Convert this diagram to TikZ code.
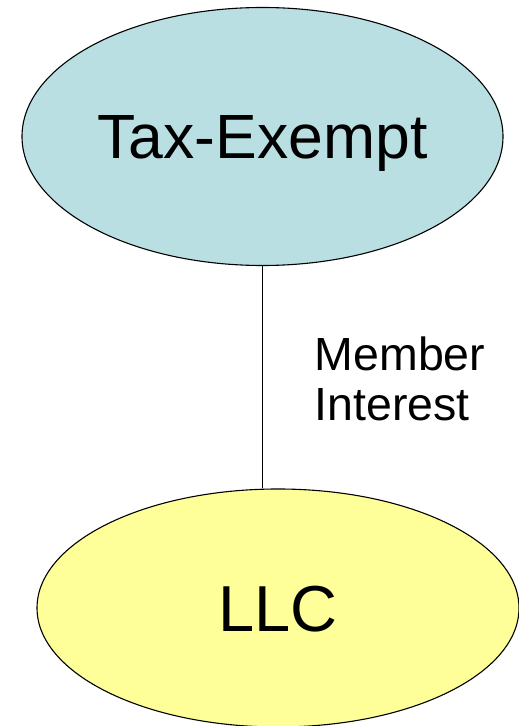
\documentclass[tikz,border=0pt]{standalone}
\usepackage{fontspec}
\setmainfont{Liberation Sans}
\usetikzlibrary{shapes.geometric}
\definecolor{teblue}{HTML}{B9DFE3}
\definecolor{llcyellow}{HTML}{FFFF99}
\tikzset{
  entity/.style={ellipse, draw=black, line width=1.1pt, inner sep=0pt, text depth=0pt},
  conn/.style={draw=black, line width=1pt},
  lbl/.style={align=left, inner sep=0pt, font=\fontsize{46.5}{50}\selectfont}
}
\begin{document}
\begin{tikzpicture}[x=1pt,y=1pt]
\useasboundingbox (0,0) rectangle (519,726);
\node[entity, fill=teblue, minimum width=481pt, minimum height=258pt,
  text height=44.8pt, font=\fontsize{62.5}{70}\selectfont] (te) at (262.5,589.5) {Tax-Exempt};
\node[entity, fill=llcyellow, minimum width=482pt, minimum height=238pt,
  text height=46.5pt, font=\fontsize{65}{72}\selectfont] (llc) at (278,118) {LLC};
\draw[conn] (te.south) -- (te.south |- llc.north);
\node[lbl, anchor=north west] (mi) at (314.5,389) {Member\\Interest};
\end{tikzpicture}
\end{document}
